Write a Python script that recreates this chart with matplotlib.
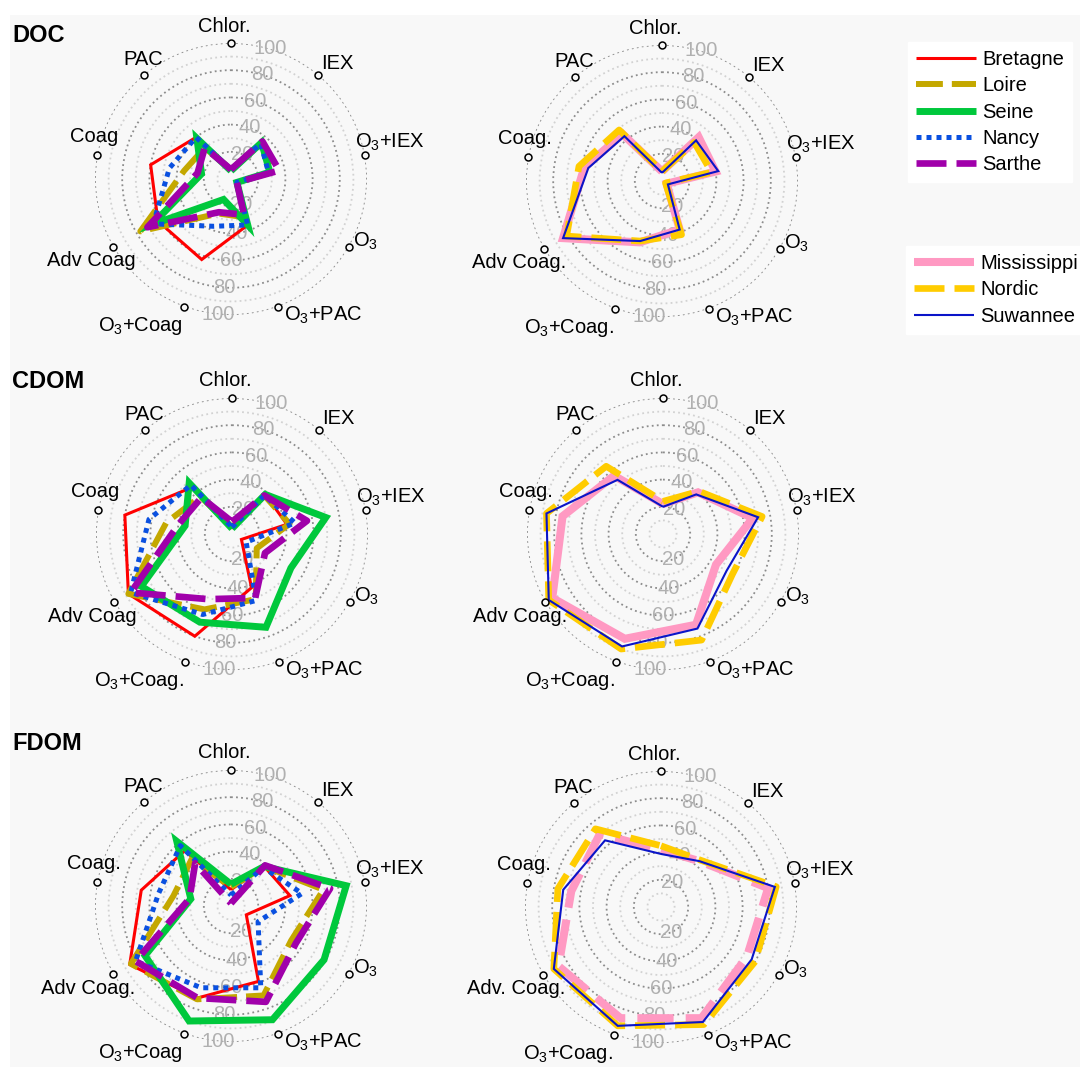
import numpy as np
import matplotlib
matplotlib.use('Agg')
import matplotlib.pyplot as plt
from matplotlib.patches import Rectangle

plt.rcParams['font.family'] = ['Liberation Sans', 'DejaVu Sans']
plt.rcParams['mathtext.fontset'] = 'custom'
plt.rcParams['mathtext.rm'] = 'Liberation Sans'
plt.rcParams['mathtext.it'] = 'Liberation Sans:italic'
plt.rcParams['mathtext.bf'] = 'Liberation Sans:bold'

# axes order (clockwise from top):
# Chlor., IEX, O3+IEX, O3, O3+PAC, O3+Coag, Adv Coag, Coag, PAC
labels_doc_fr = ['Chlor.', 'IEX', 'O$_3$+IEX', 'O$_3$', 'O$_3$+PAC', 'O$_3$+Coag', 'Adv Coag', 'Coag', 'PAC']
labels_doc_nom = ['Chlor.', 'IEX', 'O$_3$+IEX', 'O$_3$', 'O$_3$+PAC', 'O$_3$+Coag.', 'Adv Coag.', 'Coag.', 'PAC']
labels_cdom_fr = ['Chlor.', 'IEX', 'O$_3$+IEX', 'O$_3$', 'O$_3$+PAC', 'O$_3$+Coag.', 'Adv Coag', 'Coag', 'PAC']
labels_cdom_nom = ['Chlor.', 'IEX', 'O$_3$+IEX', 'O$_3$', 'O$_3$+PAC', 'O$_3$+Coag.', 'Adv Coag.', 'Coag.', 'PAC']
labels_fdom_fr = ['Chlor.', 'IEX', 'O$_3$+IEX', 'O$_3$', 'O$_3$+PAC', 'O$_3$+Coag', 'Adv Coag.', 'Coag.', 'PAC']
labels_fdom_nom = ['Chlor.', 'IEX', 'O$_3$+IEX', 'O$_3$', 'O$_3$+PAC', 'O$_3$+Coag.', 'Adv. Coag.', 'Coag.', 'PAC']

# removal (%) per treatment
doc_fr = {
    'Bretagne': [7, 34, 30, 5, 36, 63, 62, 60, 40],
    'Loire':    [7, 34, 32, 5, 30, 27, 77, 35, 30],
    'Seine':    [6, 35, 29, 5, 36, 16, 67, 22, 39],
    'Nancy':    [7, 34, 28, 5, 36, 37, 66, 46, 40],
    'Sarthe':   [7, 36, 36, 5, 28, 26, 71, 25, 30],
}
doc_nom = {
    'Mississippi': [7, 42, 40, 4, 38, 48, 84, 58, 45],
    'Nordic':      [7, 37, 37, 3, 42, 47, 81, 62, 49],
    'Suwannee':    [6, 39, 42, 5, 38, 47, 84, 55, 43],
}
cdom_fr = {
    'Bretagne': [4, 38, 41, 8, 42, 80, 88, 80, 45],
    'Loire':    [5, 37, 43, 21, 51, 59, 88, 49, 36],
    'Seine':    [4, 38, 70, 50, 73, 69, 77, 35, 49],
    'Nancy':    [5, 37, 47, 12, 52, 63, 86, 62, 47],
    'Sarthe':   [9, 37, 56, 28, 50, 51, 86, 40, 35],
}
cdom_nom = {
    'Mississippi': [22, 40, 67, 45, 71, 82, 94, 75, 56],
    'Nordic':      [24, 41, 74, 59, 83, 90, 97, 87, 65],
    'Suwannee':    [20, 38, 71, 54, 74, 88, 97, 87, 52],
}
fdom_fr = {
    'Bretagne': [12, 38, 44, 13, 59, 72, 86, 67, 53],
    'Loire':    [14, 38, 69, 51, 70, 73, 85, 43, 45],
    'Seine':    [16, 38, 86, 79, 89, 90, 73, 30, 62],
    'Nancy':    [8, 37, 53, 23, 64, 64, 81, 54, 58],
    'Sarthe':   [2, 39, 74, 55, 75, 72, 81, 31, 41],
}
fdom_nom = {
    'Mississippi': [42, 44, 80, 73, 87, 87, 87, 67, 70],
    'Nordic':      [45, 45, 86, 80, 92, 93, 91, 77, 75],
    'Suwannee':    [39, 44, 85, 77, 90, 93, 91, 73, 64],
}

rings = np.arange(10, 101, 10)
tick_vals = [20, 40, 60, 80, 100]

DASH = (0, (4.5, 1.5))
styles = {
    'Bretagne':    dict(color='#ff0000', lw=2.2, ls='-'),
    'Loire':       dict(color='#c4a800', lw=4.3, ls=DASH),
    'Seine':       dict(color='#00c83c', lw=5.0, ls='-'),
    'Nancy':       dict(color='#0a50e0', lw=3.6, ls=(0, (1, 1))),
    'Sarthe':      dict(color='#a000aa', lw=4.8, ls=DASH),
    'Mississippi': dict(color='#ff99c2', lw=5.8, ls='-'),
    'Nordic':      dict(color='#ffcc00', lw=4.8, ls=DASH),
    'Suwannee':    dict(color='#0a14c8', lw=1.5, ls='-'),
}

W, H = 1080, 1067
BG = '#f8f8f8'
FS = 14.5
fig = plt.figure(figsize=(W / 100, H / 100), dpi=100, facecolor='white')
fig.patches.append(Rectangle((10 / W, 0), 1 - 10 / W, 1 - 15 / H, transform=fig.transFigure,
                             facecolor=BG, edgecolor='none', zorder=-10))

theta = np.deg2rad(np.arange(9) * 40)
rad = 136  # pixels for r = 100
# label offsets (pixels) and alignment for each axis name
lab_off = [(-7, 17, 'center'), (3, 11, 'left'), (-10, 13, 'left'), (4, 6, 'left'),
           (6, -9, 'left'), (-2, -19, 'right'), (22, -14, 'right'), (-3, 19, 'center'),
           (0, 15, 'center')]
top_ang = [24, 20, 17.5, 17, 16.8]
bot_ang = [158, 174, 180, 183.5, 185.5]


def radar(cx, cy, data, names, ls_override=None):
    ls_override = ls_override or {}
    ax = fig.add_axes([(cx - rad) / W, (H - cy - rad) / H, 2 * rad / W, 2 * rad / H],
                      projection='polar')
    ax.set_theta_offset(np.pi / 2)
    ax.set_theta_direction(-1)
    ax.set_ylim(0, 100)
    ax.set_facecolor('none')
    ax.spines['polar'].set_visible(False)
    ax.set_xticks([])
    ax.set_yticks(rings)
    ax.set_yticklabels([])
    ax.set_axisbelow(True)
    ax.yaxis.grid(True, linestyle=(0, (1, 1.8)), linewidth=1.3)
    for r, gl in zip(rings, ax.yaxis.get_gridlines()):
        gl.set_color('#8c8c8c' if r % 20 == 0 else '#d2d2d2')
    for v, a in zip(tick_vals, top_ang):
        ax.text(np.deg2rad(a), v, str(v), color='#b0b0b0', fontsize=FS,
                ha='center', va='center', zorder=1)
    for v, a in zip(tick_vals, bot_ang):
        ax.text(np.deg2rad(a), v, str(v), color='#b0b0b0', fontsize=FS,
                ha='center', va='center', zorder=1)
    handles = []
    for k, (name, vals) in enumerate(data.items()):
        st = styles[name]
        v = list(vals) + [vals[0]]
        t = list(theta) + [theta[0]]
        ln, = ax.plot(t, v, color=st['color'], lw=st['lw'],
                      linestyle=ls_override.get(name, st['ls']),
                      label=name, zorder=3 + k, solid_joinstyle='miter',
                      solid_capstyle='butt', dash_capstyle='butt')
        handles.append(ln)
    ax.plot(theta, np.full(9, 100), 'o', ms=5, mfc=BG, mec='black', mew=1.1,
            clip_on=False, zorder=20)
    for th, nm, (dx, dy, ha) in zip(theta, names, lab_off):
        ax.annotate(nm, xy=(th, 100), xytext=(dx, dy), textcoords='offset pixels',
                    ha=ha, va='center', fontsize=FS, annotation_clip=False)
    return ax, handles


_, h1 = radar(231, 179, doc_fr, labels_doc_fr)
_, h2 = radar(662, 181, doc_nom, labels_doc_nom)
radar(232, 534, cdom_fr, labels_cdom_fr)
radar(663, 534, cdom_nom, labels_cdom_nom)
radar(231, 906, fdom_fr, labels_fdom_fr)
radar(661, 907, fdom_nom, labels_fdom_nom, ls_override={'Mississippi': DASH})

for txt, y in [('DOC', 36), ('CDOM', 382), ('FDOM', 744)]:
    fig.text(12 / W, 1 - y / H, txt, fontsize=17, fontweight='bold', ha='left', va='center')

leg_kw = dict(loc='upper left', fontsize=FS, frameon=True, fancybox=False, framealpha=1,
              facecolor='white', edgecolor='white', borderaxespad=0, borderpad=0.4,
              handlelength=3.0, handletextpad=0.3, labelspacing=0.36)
fig.legend(handles=h1, bbox_to_anchor=(908 / W, 1 - 42 / H), **leg_kw)
fig.legend(handles=h2, bbox_to_anchor=(906 / W, 1 - 246 / H), **leg_kw)

fig.savefig('out.png', dpi=100, facecolor='white')
